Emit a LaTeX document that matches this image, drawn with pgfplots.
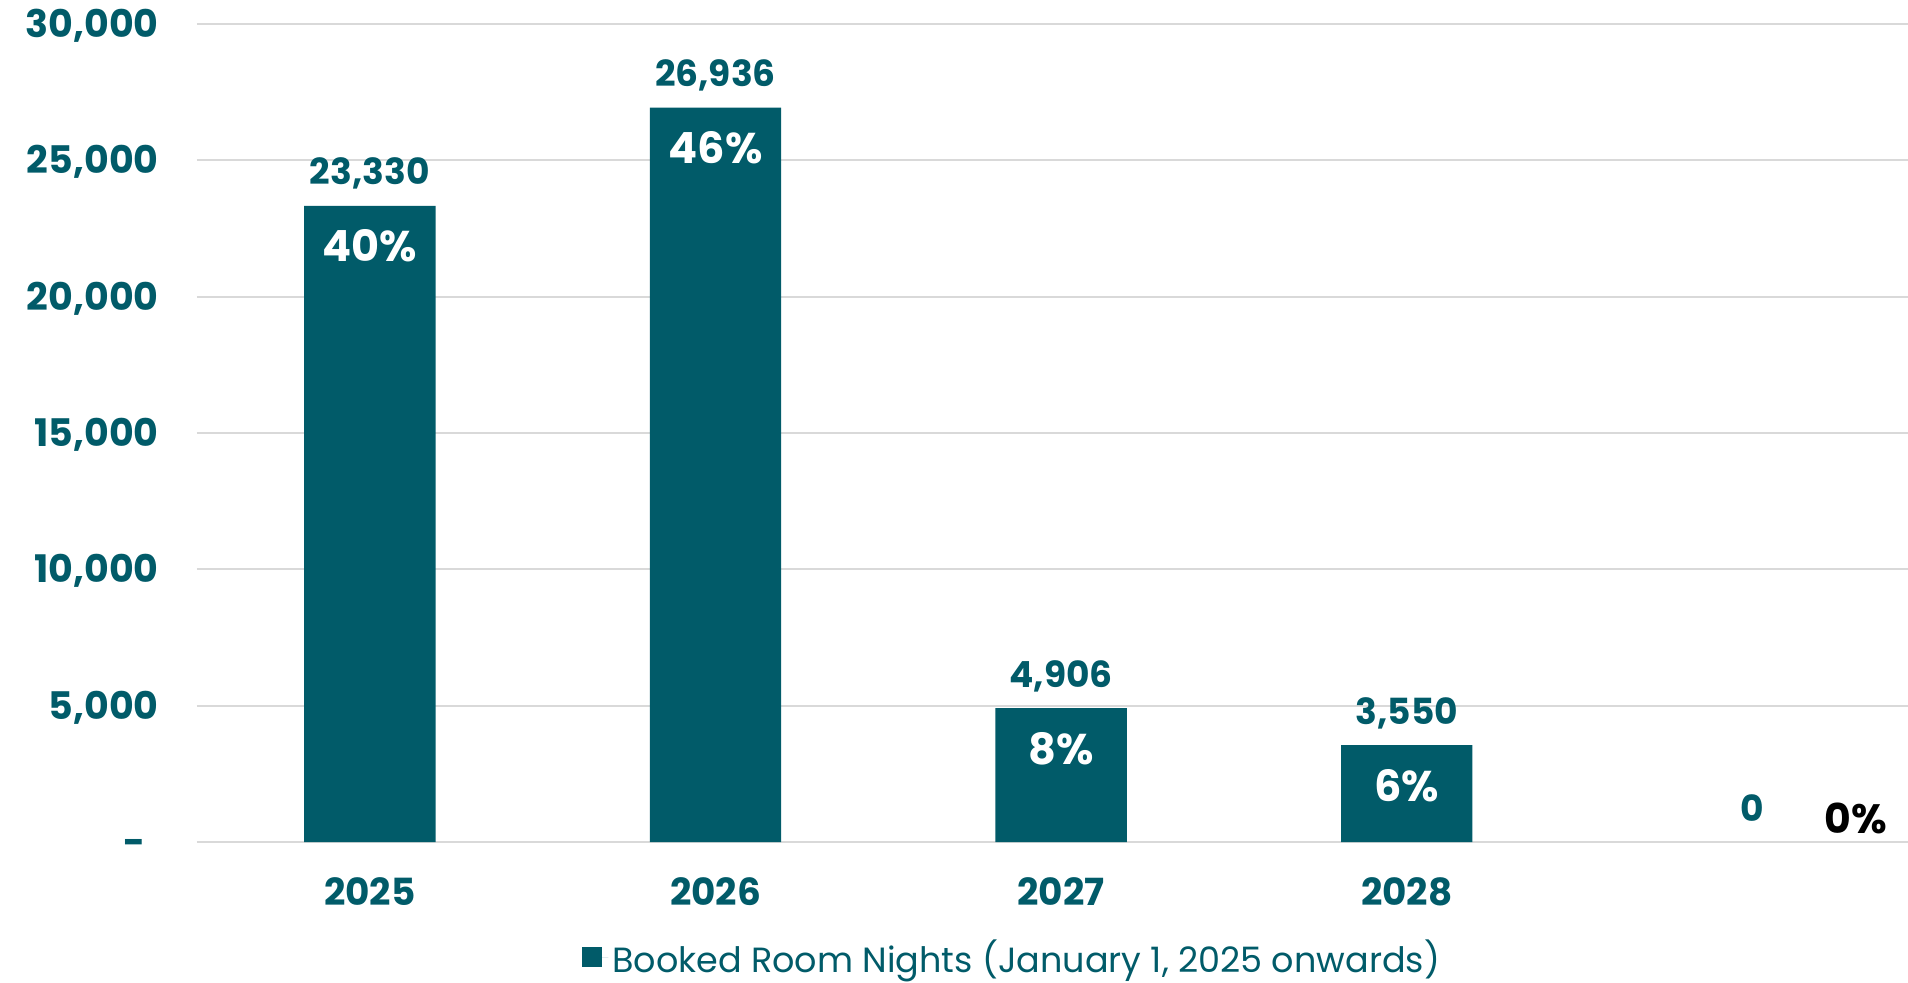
\documentclass[border=0pt]{standalone}
\usepackage{fontspec}
\setmainfont{Poppins}
\usepackage{pgfplots}
\pgfplotsset{compat=1.18}
\usepackage{pgfplotstable}
\definecolor{teal1}{HTML}{015B69}
\definecolor{gridgray}{HTML}{D9D9D9}
\pgfplotstableread{
x y pct
0 23330 40
1 26936 46
2 4906 8
3 3550 6
}\bookings
\pgfplotstableread{
x y
4 0
}\zerocat
\begin{document}
\begin{tikzpicture}
\useasboundingbox (0,0) rectangle (954pt,491pt);
\begin{axis}[
  at={(98.5pt,70pt)}, anchor=south west,
  scale only axis, width=855.5pt, height=409pt,
  clip=false,
  ybar,
  xmin=-0.5, xmax=4.45,
  ymin=0, ymax=30000,
  scaled y ticks=false,
  xtick={0,1,2,3,4},
  xticklabels={2025,2026,2027,2028,{}},
  ytick={0,5000,10000,15000,20000,25000,30000},
  yticklabels={{-\hbox to 6.3pt{}},{5,000},{10,000},{15,000},{20,000},{25,000},{30,000}},
  /pgf/number format/assume math mode=true,
  /pgf/number format/1000 sep={,},
  axis line style={draw=none},
  major tick length=0pt,
  ymajorgrids,
  grid style={gridgray, line width=1pt},
  yticklabel style={font=\fontsize{19}{19}\selectfont\bfseries, text=teal1, anchor=base east, inner sep=0pt, xshift=-19pt, yshift=-6.8pt},
  xticklabel style={font=\fontsize{18.7}{18.5}\selectfont\bfseries, text=teal1, anchor=base, inner sep=0pt, yshift=-31.5pt},
  legend style={draw=none, fill=none, at={(axis description cs:0.477,-0.141)}, anchor=center,
    font=\fontsize{17.5}{17}\selectfont, text=teal1, inner sep=0pt},
  legend image code/.code={\fill[teal1] (0pt,-5pt) rectangle (10pt,5pt); \path (0pt,0pt) -- (13pt,0pt);},
]
\addplot[fill=teal1, draw=none, bar width=0.38, bar shift=0pt,
  point meta=y,
  nodes near coords={\pgfmathprintnumber{\pgfplotspointmeta}},
  every node near coord/.append style={font=\fontsize{18}{18}\selectfont\bfseries, text=teal1, anchor=base, inner sep=0pt, yshift=10.5pt}]
  table[x=x, y=y] {\bookings};
\addlegendentry{Booked Room Nights (January 1, 2025 onwards)}
\addplot[draw=none, fill=none, bar width=0.38, bar shift=0pt,
  point meta=\thisrow{pct},
  nodes near coords={\pgfmathprintnumber{\pgfplotspointmeta}\%},
  every node near coord/.append style={font=\fontsize{21.5}{21.5}\selectfont\bfseries, text=white, anchor=base, inner sep=0pt, yshift=-28pt}]
  table[x=x, y=y] {\bookings};
\addplot[draw=none, fill=none, bar width=0.38, bar shift=0pt,
  point meta=y,
  nodes near coords={\pgfmathprintnumber{\pgfplotspointmeta}},
  every node near coord/.append style={font=\fontsize{18}{18}\selectfont\bfseries, text=teal1, anchor=base, inner sep=0pt, yshift=10.5pt}]
  table[x=x, y=y] {\zerocat};
\addplot[draw=none, fill=none, bar width=0.38, bar shift=0pt,
  point meta=explicit,
  nodes near coords={\pgfmathprintnumber{\pgfplotspointmeta}\%},
  every node near coord/.append style={font=\fontsize{20.5}{20.5}\selectfont\bfseries, text=black, anchor=base, inner sep=0pt, yshift=4.5pt}]
  coordinates {(4.30,0) [0]};
\end{axis}
\end{tikzpicture}
\end{document}
